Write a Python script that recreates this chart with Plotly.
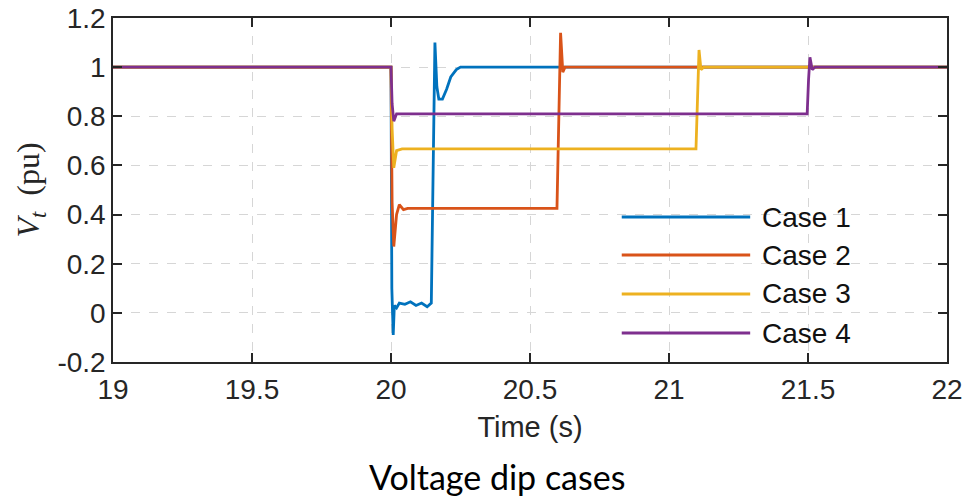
import plotly.graph_objects as go

# ---- data ----
case1_t = [19.0, 20.0, 20.003, 20.008, 20.012, 20.02, 20.03, 20.05, 20.07, 20.09, 20.11, 20.13, 20.145, 20.152, 20.158, 20.165, 20.172, 20.185, 20.2, 20.215, 20.235, 20.25, 22.0]
case1_v = [1.0, 1.0, 0.10, -0.09, 0.03, 0.02, 0.04, 0.035, 0.045, 0.03, 0.04, 0.025, 0.04, 0.60, 1.10, 0.92, 0.87, 0.87, 0.91, 0.96, 0.99, 1.0, 1.0]

case2_t = [19.0, 20.0, 20.004, 20.01, 20.02, 20.03, 20.045, 20.06, 20.597, 20.603, 20.61, 20.618, 20.626, 20.64, 22.0]
case2_v = [1.0, 1.0, 0.45, 0.27, 0.40, 0.44, 0.42, 0.425, 0.425, 0.80, 1.14, 0.98, 1.0, 1.0, 1.0]

case3_t = [19.0, 20.0, 20.004, 20.01, 20.02, 20.04, 21.097, 21.103, 21.108, 21.115, 21.125, 22.0]
case3_v = [1.0, 1.0, 0.75, 0.59, 0.66, 0.667, 0.667, 0.90, 1.07, 0.99, 1.0, 1.0]

case4_t = [19.0, 20.0, 20.004, 20.01, 20.02, 20.04, 21.497, 21.502, 21.507, 21.515, 21.525, 22.0]
case4_v = [1.0, 1.0, 0.85, 0.78, 0.81, 0.81, 0.81, 0.95, 1.04, 0.99, 1.0, 1.0]

series_names = ["Case 1", "Case 2", "Case 3", "Case 4"]
series_t = [case1_t, case2_t, case3_t, case4_t]
series_v = [case1_v, case2_v, case3_v, case4_v]
colors = ["#0072BD", "#D95319", "#EDB120", "#7E2F8E"]

x_ticks = [19, 19.5, 20, 20.5, 21, 21.5, 22]
x_ticklabels = ["19", "19.5", "20", "20.5", "21", "21.5", "22"]
y_ticks = [-0.2, 0, 0.2, 0.4, 0.6, 0.8, 1.0, 1.2]
y_ticklabels = ["-0.2", "0", "0.2", "0.4", "0.6", "0.8", "1", "1.2"]

fig = go.Figure()
for name, t, v, c in zip(series_names, series_t, series_v, colors):
    fig.add_trace(go.Scatter(x=t, y=v, mode="lines", name=name,
                             line=dict(color=c, width=2.8), showlegend=False))

axis_common = dict(
    showline=True, linecolor="#262626", linewidth=1.5, mirror="ticks",
    ticks="inside", ticklen=9, tickwidth=1.5, tickcolor="#262626",
    showgrid=True, gridcolor="#d6d6d6", griddash="dash", gridwidth=1,
    zeroline=False,
    tickfont=dict(family="Liberation Sans, Arial, sans-serif", size=28, color="#262626"),
)

fig.update_xaxes(range=[19, 22], tickvals=x_ticks, ticktext=x_ticklabels,
                 ticklabelstandoff=2,
                 title=dict(text="Time (s)", font=dict(family="Liberation Sans, Arial, sans-serif", size=29, color="#262626"), standoff=12),
                 **axis_common)
fig.update_yaxes(range=[-0.2, 1.2], tickvals=y_ticks, ticktext=y_ticklabels,
                 ticklabelstandoff=0,
                 title=dict(text="<i>V</i><sub><i>t</i></sub>  (pu)", font=dict(family="Liberation Serif, DejaVu Serif, serif", size=32, color="#262626"), standoff=8),
                 **axis_common)

# legend drawn MATLAB-style (long line samples, no box)
leg_y = [0.4215, 0.311, 0.198, 0.0843]
for name, c, yy in zip(series_names, colors, leg_y):
    fig.add_shape(type="line", xref="paper", yref="paper", x0=0.610, x1=0.764, y0=yy, y1=yy,
                  line=dict(color=c, width=3))
    fig.add_annotation(xref="paper", yref="paper", x=0.776, y=yy, text=name, showarrow=False,
                       xanchor="left", yanchor="middle",
                       font=dict(family="Liberation Sans, Arial, sans-serif", size=28, color="#111111"))

fig.add_annotation(xref="paper", yref="paper", x=0.460, y=-0.334, text="Voltage dip cases",
                   showarrow=False, xanchor="center", yanchor="middle",
                   font=dict(family="Lato, Open Sans, sans-serif", size=34, color="#000000"))

fig.update_layout(
    width=963, height=497,
    margin=dict(l=113, r=16, t=18, b=135, autoexpand=False),
    plot_bgcolor="white", paper_bgcolor="white",
)

fig.write_html("out.html", config={"displayModeBar": False},
               post_script="document.body.style.margin='0';document.body.style.overflow='hidden';")
